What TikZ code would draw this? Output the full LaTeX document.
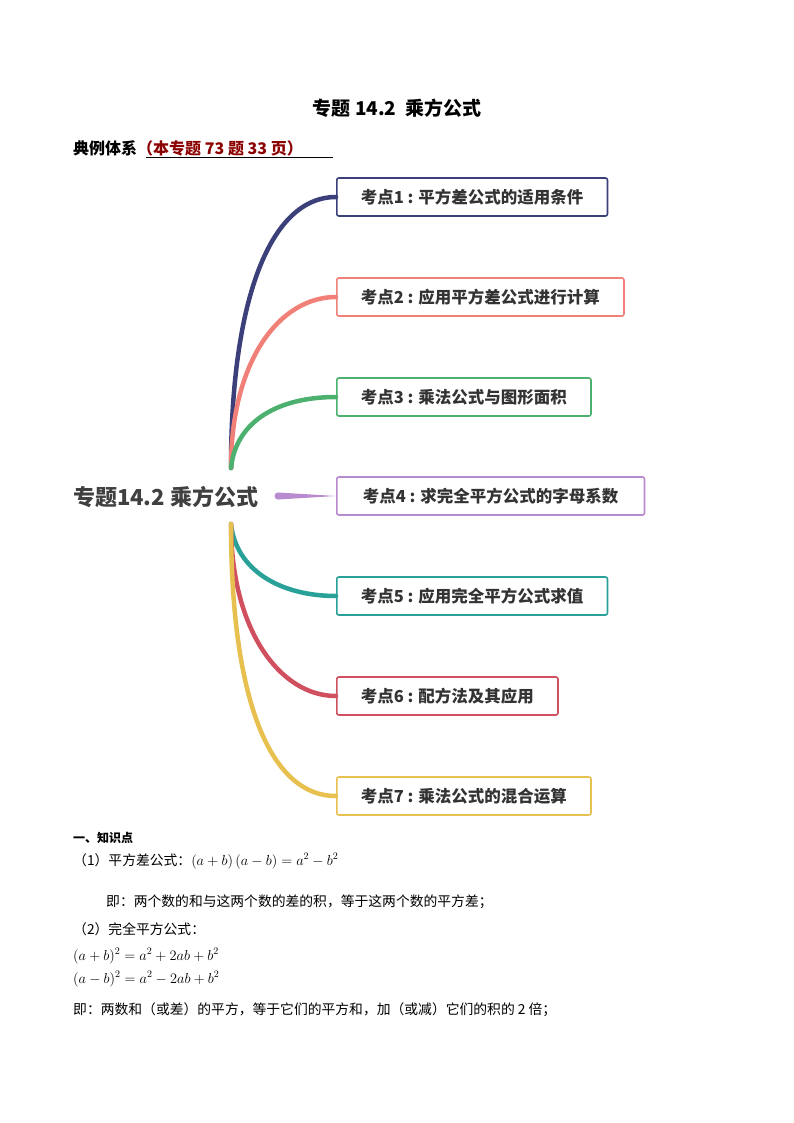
\documentclass[tikz,border=0pt]{standalone}
\usepackage{fontspec}
\newfontfamily\cjk{Noto Sans CJK SC}
\setmainfont{Liberation Serif}
\begin{document}
\begin{tikzpicture}[x=1pt,y=-1pt,
  kbox/.style={draw=#1,line width=1.6pt,rounded corners=2pt,minimum height=38pt,anchor=west,inner xsep=18pt,font=\cjk\bfseries\fontsize{16.5}{16.5}\selectfont,text=black!80},
  br/.style={draw=#1,line width=4.5pt,line cap=round},
  body/.style={anchor=west,font=\cjk\fontsize{13.8}{15}\selectfont,inner sep=0}]
\definecolor{c1}{HTML}{3B3F7A}\definecolor{c2}{HTML}{F08078}\definecolor{c3}{HTML}{4CB06E}
\definecolor{c4}{HTML}{B88AD0}\definecolor{c5}{HTML}{2AA198}\definecolor{c6}{HTML}{D05060}
\definecolor{c7}{HTML}{E8C050}\definecolor{dred}{HTML}{8B0000}
\useasboundingbox (0,0) rectangle (794,1123);
\node[font=\cjk\bfseries\fontsize{19}{19}\selectfont] (title) at (397,108) {专题 14.2\ \ 乘方公式};
\node[anchor=west,inner sep=0,font=\cjk\bfseries\fontsize{16}{16}\selectfont] (sys) at (73,148) {典例体系\textcolor{dred}{（本专题 73 题 33 页）}};
\draw[line width=0.8pt] (146,157) -- (333,157);
\node[anchor=west,inner sep=0,font=\cjk\bfseries\fontsize{22}{22}\selectfont,text=black!75] (root) at (73,497) {专题14.2 乘方公式};
\coordinate (up) at (231,468);
\coordinate (dn) at (231,524);
\node[kbox=c1,inner xsep=24pt] (k1) at (336,197) {考点1 : 平方差公式的适用条件};
\node[kbox=c2,inner xsep=24pt] (k2) at (336,297) {考点2 : 应用平方差公式进行计算};
\node[kbox=c3,inner xsep=24pt] (k3) at (336,397) {考点3 : 乘法公式与图形面积};
\node[kbox=c4,inner xsep=26pt] (k4) at (336,496) {考点4 : 求完全平方公式的字母系数};
\node[kbox=c5,inner xsep=24pt] (k5) at (336,596) {考点5 : 应用完全平方公式求值};
\node[kbox=c6,inner xsep=24pt] (k6) at (336,696) {考点6 : 配方法及其应用};
\node[kbox=c7,inner xsep=24pt] (k7) at (336,796) {考点7 : 乘法公式的混合运算};
\coordinate (mid) at (278,496);
\fill[c4] (mid) circle (3.5);
\fill[c4] (278,492.5) -- (k4.west) -- (278,499.5) -- cycle;
\draw[br=c1] (up) .. controls (231,300) and (270,197) .. (k1.west);
\draw[br=c2] (up) .. controls (231,360) and (280,297) .. (k2.west);
\draw[br=c3] (up) .. controls (236,420) and (280,397) .. (k3.west);
\draw[br=c5] (dn) .. controls (236,570) and (280,596) .. (k5.west);
\draw[br=c6] (dn) .. controls (231,630) and (280,696) .. (k6.west);
\draw[br=c7] (dn) .. controls (231,700) and (270,796) .. (k7.west);
\node[anchor=west,inner sep=0,font=\cjk\bfseries\fontsize{12}{12}\selectfont] (h1) at (73,838) {一、知识点};
\node[body] (l1) at (73,861) {（1）平方差公式：$\left(a+b\right)\left(a-b\right)=a^2-b^2$};
\node[body] (l2) at (106,902) {即：两个数的和与这两个数的差的积，等于这两个数的平方差；};
\node[body] (l3) at (73,929) {（2）完全平方公式：};
\node[body] (l4) at (73,956) {$(a+b)^2=a^2+2ab+b^2$};
\node[body] (l5) at (73,979) {$(a-b)^2=a^2-2ab+b^2$};
\node[body] (l6) at (73,1010) {即：两数和（或差）的平方，等于它们的平方和，加（或减）它们的积的 2 倍；};
\end{tikzpicture}
\end{document}
